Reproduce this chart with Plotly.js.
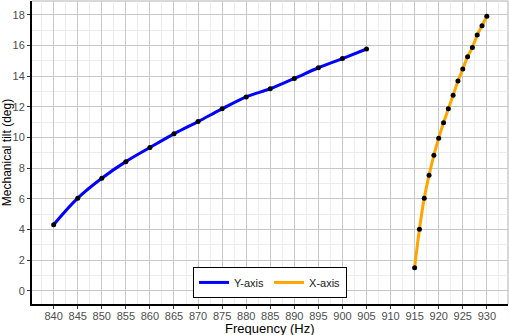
<!DOCTYPE html>
<html>
<head>
<meta charset="utf-8">
<script src="https://cdn.plot.ly/plotly-3.0.1.min.js"></script>
<style>html,body{margin:0;padding:0;background:#fff;}#chart{width:509px;height:335px;}</style>
</head>
<body>
<div id="chart"></div>
<script>
const yFreq = [840, 845, 850, 855, 860, 865, 870, 875, 880, 885, 890, 895, 900, 905];
const yTilt = [4.32, 6.05, 7.35, 8.43, 9.35, 10.24, 11.04, 11.87, 12.65, 13.18, 13.85, 14.55, 15.15, 15.77];
const xFreq = [915, 916, 917, 918, 919, 920, 921, 922, 923, 924, 925, 926, 927, 928, 929, 930];
const xTilt = [1.52, 4.02, 6.05, 7.55, 8.85, 9.96, 10.96, 11.87, 12.76, 13.68, 14.46, 15.26, 15.87, 16.68, 17.29, 17.9];
const seriesNames = ["Y-axis", "X-axis"];
const xTicks = [840, 845, 850, 855, 860, 865, 870, 875, 880, 885, 890, 895, 900, 905, 910, 915, 920, 925, 930];
const yTicks = [0, 2, 4, 6, 8, 10, 12, 14, 16, 18];

const traces = [
  {x: yFreq, y: yTilt, name: seriesNames[0], mode: 'lines', line: {color: '#0000ff', width: 3, shape: 'spline'}},
  {x: xFreq, y: xTilt, name: seriesNames[1], mode: 'lines', line: {color: '#ffa500', width: 3, shape: 'spline'}},
  {x: yFreq, y: yTilt, mode: 'markers', marker: {color: '#000', size: 5}, showlegend: false, hoverinfo: 'skip'},
  {x: xFreq, y: xTilt, mode: 'markers', marker: {color: '#000', size: 5}, showlegend: false, hoverinfo: 'skip'}
];

const fam = 'Liberation Sans, Arial, sans-serif';
const tickFont = {family: fam, size: 11, color: '#4d4d4d'};
const layout = {
  width: 509, height: 335,
  margin: {l: 32, r: 1, t: 1, b: 31},
  paper_bgcolor: '#fff', plot_bgcolor: '#fff',
  showlegend: true,
  legend: {orientation: 'h', x: 0.5, xanchor: 'center', y: 0.02, yanchor: 'bottom',
    bgcolor: '#fff', bordercolor: '#000', borderwidth: 1,
    font: {family: fam, size: 11, color: '#1a1a1a'}, itemwidth: 30},
  xaxis: {
    range: [835.5, 934.4], tickvals: xTicks, ticktext: xTicks.map(String),
    showgrid: true, gridcolor: '#c8c8c8', gridwidth: 1,
    minor: {dtick: 2.5, tick0: 837.5, showgrid: true, gridcolor: '#ececec', gridwidth: 1},
    showline: true, linecolor: '#000', linewidth: 2, mirror: false,
    ticks: 'outside', ticklen: 3, tickcolor: '#333', tickwidth: 1, ticklabelstandoff: -2,
    tickfont: tickFont, zeroline: false
  },
  yaxis: {
    range: [-0.85, 18.9], tickvals: yTicks, ticktext: yTicks.map(String),
    showgrid: true, gridcolor: '#c8c8c8', gridwidth: 1,
    minor: {dtick: 1, tick0: 0, showgrid: true, gridcolor: '#ececec', gridwidth: 1},
    showline: true, linecolor: '#000', linewidth: 2, mirror: false,
    ticks: 'outside', ticklen: 3, tickcolor: '#333', tickwidth: 1,
    tickfont: tickFont, zeroline: false,
    title: {text: 'Mechanical tilt (deg)', font: {family: fam, size: 12, color: '#000'}, standoff: 4}
  },
  annotations: [
    {text: 'Frequency (Hz)', xref: 'paper', yref: 'paper', x: 0.5, y: 0, xanchor: 'center', yanchor: 'top',
     yshift: -15, showarrow: false, font: {family: fam, size: 13, color: '#000'}}
  ],
  shapes: [
    {type: 'line', xref: 'paper', yref: 'paper', x0: 0, x1: 1, y0: 1, y1: 1, line: {color: '#b0b0b0', width: 1}, layer: 'below'},
    {type: 'line', xref: 'paper', yref: 'paper', x0: 1, x1: 1, y0: 0, y1: 1, line: {color: '#b0b0b0', width: 1}, layer: 'below'}
  ]
};
Plotly.newPlot('chart', traces, layout, {displayModeBar: false, staticPlot: true});
</script>
</body>
</html>
